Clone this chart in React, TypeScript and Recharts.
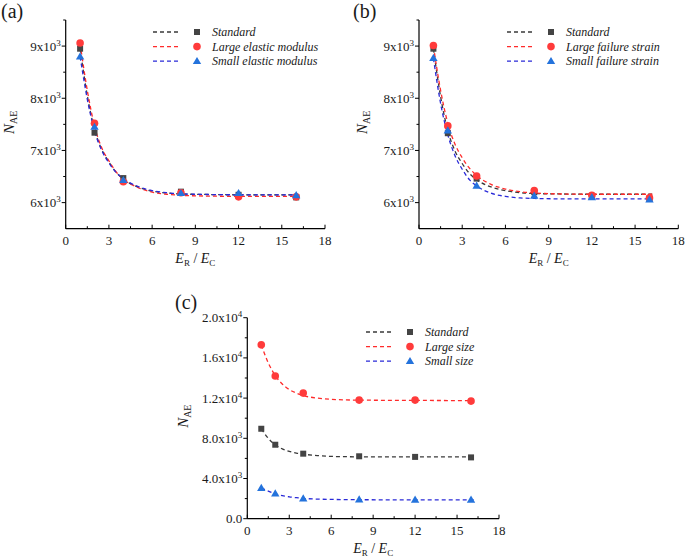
import { ComposedChart, Legend, Line, Scatter, XAxis, YAxis } from "recharts";

// shared x positions
const X_POINTS = [1, 2, 4, 8, 12, 16];
const X_FIT = [1, 1.5, 2, 2.5, 3, 3.5, 4, 5, 6, 7, 8, 10, 12, 14, 16.2];
const X_MAJOR = [0, 3, 6, 9, 12, 15, 18];
const X_MINOR = [1.5, 4.5, 7.5, 10.5, 13.5, 16.5];

// (a) elastic modulus
const A_NAMES = ["Standard", "Large elastic modulus", "Small elastic modulus"];
const A_STANDARD = [8950, 7340, 6470, 6210, 6150, 6100];
const A_LARGE = [9060, 7520, 6400, 6190, 6110, 6110];
const A_SMALL = [8800, 7450, 6430, 6180, 6180, 6140];
const A_STANDARD_FIT = [8950, 8050, 7400, 7020, 6780, 6580, 6450, 6300, 6220, 6185, 6165, 6155, 6150, 6150, 6150];
const A_LARGE_FIT = [9050, 8150, 7470, 7050, 6800, 6590, 6450, 6290, 6200, 6160, 6140, 6125, 6120, 6120, 6120];
const A_SMALL_FIT = [8800, 7980, 7380, 7000, 6760, 6580, 6460, 6310, 6230, 6190, 6170, 6155, 6150, 6150, 6150];

// (b) failure strain
const B_NAMES = ["Standard", "Large failure strain", "Small failure strain"];
const B_STANDARD = [8950, 7330, 6460, 6200, 6130, 6080];
const B_LARGE = [9010, 7470, 6510, 6230, 6140, 6090];
const B_SMALL = [8770, 7380, 6320, 6130, 6100, 6060];
const B_STANDARD_FIT = [8950, 8030, 7380, 6990, 6750, 6560, 6440, 6300, 6230, 6190, 6175, 6165, 6160, 6160, 6160];
const B_LARGE_FIT = [9000, 8150, 7520, 7120, 6860, 6660, 6520, 6350, 6260, 6210, 6185, 6165, 6160, 6160, 6160];
const B_SMALL_FIT = [8770, 7900, 7300, 6900, 6640, 6440, 6320, 6180, 6120, 6090, 6080, 6072, 6070, 6070, 6070];

// (c) specimen size
const C_NAMES = ["Standard", "Large size", "Small size"];
const C_STANDARD = [8950, 7360, 6470, 6210, 6150, 6100];
const C_LARGE = [17300, 14200, 12500, 11800, 11800, 11700];
const C_SMALL = [3050, 2500, 2000, 1900, 1870, 1870];
const C_STANDARD_FIT = [8950, 8000, 7350, 6950, 6700, 6530, 6420, 6280, 6200, 6170, 6155, 6150, 6150, 6150, 6150];
const C_LARGE_FIT = [17300, 15500, 14250, 13400, 12850, 12500, 12250, 12000, 11880, 11820, 11800, 11780, 11770, 11760, 11750];
const C_SMALL_FIT = [3050, 2750, 2480, 2300, 2180, 2090, 2020, 1950, 1920, 1900, 1890, 1880, 1880, 1880, 1880];

const AB_Y_MAJOR = [6000, 7000, 8000, 9000];
const AB_Y_MINOR = [6500, 7500, 8500, 9500];
const C_Y_MAJOR = [0, 4000, 8000, 12000, 16000, 20000];
const C_Y_MINOR = [2000, 6000, 10000, 14000, 18000];

const FONT = "Liberation Serif, Times New Roman, serif";
const TXT = { fontFamily: FONT };
const COLORS = {
  line: ["#3a3a3a", "#ff2b2b", "#2a2ad8"],
  marker: ["#444444", "#ff3b3b", "#2473dc"],
};

const toPoints = (ys: number[]) => X_POINTS.map((x, i) => ({ x, y: ys[i] }));
const toFit = (ys: number[]) => X_FIT.map((x, i) => ({ x, y: ys[i] }));

type Label = { mant: string; exp?: string };

const fmtThousands = (v: number): Label => ({ mant: `${v / 1000}x10`, exp: "3" });
const fmtSize = (v: number): Label => {
  if (v === 0) return { mant: "0.0" };
  if (v < 10000) return { mant: `${(v / 1000).toFixed(1)}x10`, exp: "3" };
  return { mant: `${(v / 10000).toFixed(1)}x10`, exp: "4" };
};

const Marker = ({ cx, cy, kind, color }: any) => {
  if (cx == null || cy == null) return null;
  if (kind === 0) return <rect x={cx - 3} y={cy - 3} width={6} height={6} fill={color} />;
  if (kind === 1) return <circle cx={cx} cy={cy} r={3.8} fill={color} />;
  return <polygon points={`${cx},${cy - 4.3} ${cx - 4.2},${cy + 2.9} ${cx + 4.2},${cy + 2.9}`} fill={color} />;
};

const XTick = ({ x, y, payload }: any) => {
  const v = payload.value;
  const major = X_MAJOR.includes(v);
  return (
    <g>
      <line x1={x} x2={x} y1={y} y2={y - (major ? 4 : 2.5)} stroke="#000" strokeWidth={1} />
      {major && (
        <text x={x} y={y + 16} textAnchor="middle" fontSize={13} fill="#1a1a1a" style={TXT}>
          {v}
        </text>
      )}
    </g>
  );
};

const makeYTick = (majors: number[], fmt: (v: number) => Label) => ({ x, y, payload }: any) => {
  const v = payload.value;
  const major = majors.includes(v);
  const lab = fmt(v);
  return (
    <g>
      <line x1={x} x2={x - (major ? 4 : 2.5)} y1={y} y2={y} stroke="#000" strokeWidth={1} />
      {major && (
        <text x={x - 5} y={y + 4.5} textAnchor="end" fontSize={13} fill="#1a1a1a" style={TXT}>
          {lab.mant}
          {lab.exp && (
            <tspan dy={-5} fontSize={9}>
              {lab.exp}
            </tspan>
          )}
        </text>
      )}
    </g>
  );
};

const XTitle = ({ viewBox }: any) => {
  const cx = viewBox.x + viewBox.width / 2;
  const cy = viewBox.y + 34;
  return (
    <text x={cx} y={cy} textAnchor="middle" fontSize={14} fill="#1a1a1a" style={TXT}>
      <tspan fontStyle="italic">E</tspan>
      <tspan fontSize={9} dy={3}>R</tspan>
      <tspan dy={-3}> / </tspan>
      <tspan fontStyle="italic">E</tspan>
      <tspan fontSize={9} dy={3}>C</tspan>
    </text>
  );
};

const makeYTitle = (dx: number) => ({ viewBox }: any) => {
  const cx = viewBox.x + dx;
  const cy = viewBox.y + viewBox.height / 2 - 2;
  return (
    <text
      transform={`translate(${cx + 5},${cy}) rotate(-90)`}
      textAnchor="middle"
      fontSize={15}
      fill="#1a1a1a"
      style={TXT}
    >
      <tspan fontStyle="italic">N</tspan>
      <tspan fontSize={10} dy={3}>AE</tspan>
    </text>
  );
};

const makeLegend = (names: string[]) => () => (
  <svg width={200} height={46} style={{ display: "block", overflow: "visible", fontFamily: FONT }}>
    {names.map((name, i) => {
      const y = 8 + i * 14.6;
      return (
        <g key={name}>
          <line x1={3} x2={30} y1={y} y2={y} stroke={COLORS.line[i]} strokeWidth={1.3} strokeDasharray="4 3" />
          <Marker cx={47} cy={y} kind={i} color={COLORS.marker[i]} />
          <text x={62} y={y + 4.2} fontSize={12} fontStyle="italic" fill="#1a1a1a" style={TXT}>
            {name}
          </text>
        </g>
      );
    })}
  </svg>
);

interface PanelProps {
  tag: string;
  names: string[];
  points: number[][];
  fits: number[][];
  yDomain: [number, number];
  yMajor: number[];
  yMinor: number[];
  fmt: (v: number) => Label;
  left: number;
  top: number;
  width: number;
  height: number;
  margin: { top: number; right: number; left: number; bottom: number };
  yTitleDx: number;
  legendPos: { left: number; top: number };
  tagPos: { left: number; top: number };
}

function Panel(p: PanelProps) {
  const yTicks = [...p.yMajor, ...p.yMinor].sort((a, b) => a - b);
  const xTicks = [...X_MAJOR, ...X_MINOR].sort((a, b) => a - b);
  return (
    <>
      <div
        style={{
          position: "absolute",
          left: p.tagPos.left,
          top: p.tagPos.top,
          fontFamily: FONT,
          fontSize: 20,
          lineHeight: "20px",
          color: "#1a1a1a",
        }}
      >
        {p.tag}
      </div>
      <div style={{ position: "absolute", left: p.left, top: p.top, fontFamily: FONT }}>
        <ComposedChart width={p.width} height={p.height} margin={p.margin} style={{ fontFamily: FONT }}>
          <XAxis
            type="number"
            dataKey="x"
            domain={[0, 18]}
            ticks={xTicks}
            interval={0}
            tickSize={0}
            tickMargin={0}
            tick={<XTick />}
            axisLine={{ stroke: "#000", strokeWidth: 1.2 }}
            height={30}
            label={{ content: XTitle }}
          />
          <YAxis
            type="number"
            dataKey="y"
            domain={p.yDomain}
            ticks={yTicks}
            interval={0}
            tickSize={0}
            tickMargin={0}
            tick={makeYTick(p.yMajor, p.fmt)}
            axisLine={{ stroke: "#000", strokeWidth: 1.2 }}
            width={50}
            label={{ content: makeYTitle(p.yTitleDx) }}
          />
          <Legend
            layout="vertical"
            align="center"
            verticalAlign="middle"
            content={makeLegend(p.names)}
            wrapperStyle={{ left: p.legendPos.left, top: p.legendPos.top, width: 200, height: 46 }}
          />
          {p.fits.map((ys, i) => (
            <Line
              key={`fit-${i}`}
              data={toFit(ys)}
              dataKey="y"
              type="monotone"
              stroke={COLORS.line[i]}
              strokeWidth={1.3}
              strokeDasharray="4 3"
              dot={false}
              activeDot={false}
              isAnimationActive={false}
              legendType="none"
            />
          ))}
          {p.points.map((ys, i) => (
            <Scatter
              key={`pts-${i}`}
              name={p.names[i]}
              data={toPoints(ys)}
              dataKey="y"
              shape={(props: any) => <Marker cx={props.cx} cy={props.cy} kind={i} color={COLORS.marker[i]} />}
              isAnimationActive={false}
            />
          ))}
        </ComposedChart>
      </div>
    </>
  );
}

export default function App() {
  return (
    <div
      style={{
        position: "absolute",
        left: 0,
        top: 0,
        width: 685,
        height: 558,
        background: "#fff",
        overflow: "hidden",
        fontFamily: FONT,
      }}
    >
      <Panel
        tag="(a)"
        names={A_NAMES}
        points={[A_STANDARD, A_LARGE, A_SMALL]}
        fits={[A_STANDARD_FIT, A_LARGE_FIT, A_SMALL_FIT]}
        yDomain={[5500, 9500]}
        yMajor={AB_Y_MAJOR}
        yMinor={AB_Y_MINOR}
        fmt={fmtThousands}
        left={0}
        top={0}
        width={340}
        height={280}
        margin={{ top: 20, right: 15, left: 15.7, bottom: 21.3 }}
        yTitleDx={-6.7}
        legendPos={{ left: 150, top: 24 }}
        tagPos={{ left: 1, top: 1 }}
      />
      <Panel
        tag="(b)"
        names={B_NAMES}
        points={[B_STANDARD, B_LARGE, B_SMALL]}
        fits={[B_STANDARD_FIT, B_LARGE_FIT, B_SMALL_FIT]}
        yDomain={[5500, 9500]}
        yMajor={AB_Y_MAJOR}
        yMinor={AB_Y_MINOR}
        fmt={fmtThousands}
        left={340}
        top={0}
        width={345}
        height={280}
        margin={{ top: 20, right: 6.7, left: 29, bottom: 21.3 }}
        yTitleDx={-7}
        legendPos={{ left: 164, top: 24 }}
        tagPos={{ left: 353, top: 1 }}
      />
      <Panel
        tag="(c)"
        names={C_NAMES}
        points={[C_STANDARD, C_LARGE, C_SMALL]}
        fits={[C_STANDARD_FIT, C_LARGE_FIT, C_SMALL_FIT]}
        yDomain={[0, 20000]}
        yMajor={C_Y_MAJOR}
        yMinor={C_Y_MINOR}
        fmt={fmtSize}
        left={150}
        top={280}
        width={380}
        height={278}
        margin={{ top: 37.7, right: 31, left: 47.3, bottom: 9.3 }}
        yTitleDx={-14.3}
        legendPos={{ left: 213, top: 43.5 }}
        tagPos={{ left: 175, top: 292 }}
      />
    </div>
  );
}
